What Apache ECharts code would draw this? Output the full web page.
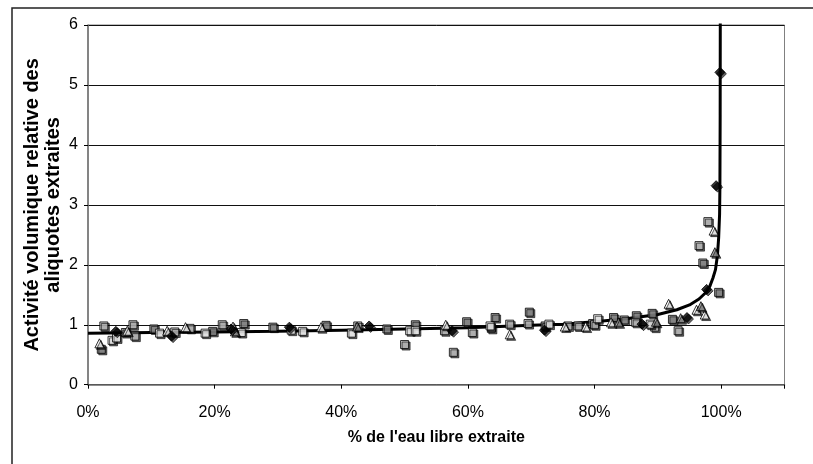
<!DOCTYPE html>
<html>
<head>
<meta charset="utf-8">
<script src="https://cdn.jsdelivr.net/npm/echarts@6/dist/echarts.min.js"></script>
<style>
html,body{margin:0;padding:0;background:#fff;}
#chart{width:813px;height:464px;}
</style>
</head>
<body>
<div id="chart"></div>
<script>
// ---- data (x = fraction of free water extracted, y = relative activity) ----
const xTicks = [0, 0.2, 0.4, 0.6, 0.8, 1.0];
const yTicks = [0, 1, 2, 3, 4, 5, 6];

const curveX = [0, 0.1, 0.2, 0.3, 0.4, 0.5, 0.6, 0.7, 0.75, 0.8, 0.85, 0.9, 0.93, 0.95, 0.965, 0.975, 0.982, 0.987, 0.991, 0.994, 0.996, 0.9975, 0.998, 0.9984, 0.9986];
const curveY = [0.86, 0.87, 0.88, 0.89, 0.91, 0.93, 0.95, 0.99, 1.01, 1.05, 1.10, 1.17, 1.25, 1.33, 1.43, 1.53, 1.64, 1.78, 1.92, 2.15, 2.45, 2.85, 3.3, 4.5, 6.2];

const diamondX = [0.044, 0.132, 0.226, 0.318, 0.444, 0.575, 0.721, 0.875, 0.946, 0.977, 0.992, 0.998];
const diamondY = [0.89, 0.81, 0.93, 0.96, 0.98, 0.90, 0.91, 1.01, 1.12, 1.59, 3.32, 5.21];

const graySqX = [0.021, 0.059, 0.104, 0.197, 0.246, 0.292, 0.376, 0.472, 0.517, 0.598, 0.643, 0.697, 0.722, 0.797, 0.830, 0.847, 0.866, 0.891, 0.923, 0.971, 0.996];
const graySqY = [0.59, 0.87, 0.93, 0.89, 1.02, 0.96, 0.99, 0.93, 1.00, 1.05, 1.12, 1.21, 0.98, 1.02, 1.12, 1.08, 1.15, 1.19, 1.09, 2.03, 1.54];

const lightSqX = [0.025, 0.071, 0.074, 0.137, 0.161, 0.212, 0.426, 0.500, 0.577, 0.563, 0.607, 0.637, 0.666, 0.695, 0.758, 0.774, 0.800, 0.865, 0.895, 0.932, 0.965, 0.979];
const lightSqY = [0.98, 1.00, 0.81, 0.88, 0.94, 1.00, 0.98, 0.67, 0.54, 0.90, 0.87, 0.94, 1.01, 1.02, 0.98, 0.98, 1.00, 1.04, 0.96, 0.90, 2.32, 2.72];

const whiteSqX = [0.038, 0.045, 0.113, 0.185, 0.242, 0.321, 0.339, 0.416, 0.508, 0.517, 0.635, 0.728, 0.805, 0.888];
const whiteSqY = [0.74, 0.78, 0.86, 0.86, 0.87, 0.91, 0.89, 0.86, 0.90, 0.90, 0.98, 1.01, 1.10, 1.01];

const whiteTriX = [0.018, 0.062, 0.125, 0.154, 0.229, 0.368, 0.565, 0.666, 0.753, 0.786, 0.826, 0.917, 0.961, 0.974, 0.988];
const whiteTriY = [0.69, 0.90, 0.90, 0.96, 0.97, 0.96, 1.00, 0.84, 0.97, 0.97, 1.04, 1.35, 1.25, 1.17, 2.57];

const grayTriX = [0.232, 0.425, 0.838, 0.897, 0.936, 0.968, 0.990];
const grayTriY = [0.89, 0.97, 1.04, 1.05, 1.11, 1.31, 2.21];

const xName = "% de l'eau libre extraite";
const yName = "Activité volumique relative des\naliquotes extraites";

function pairs(xs, ys) { return xs.map((x, i) => [x, ys[i]]); }

const FONT = 'Liberation Sans, Arial, sans-serif';
const shadow = { shadowColor: 'rgba(0,0,0,0.75)', shadowOffsetX: 1.5, shadowOffsetY: 1.5, shadowBlur: 0 };

function scatter(name, xs, ys, symbol, size, fill, border) {
  return {
    name: name, type: 'scatter', data: pairs(xs, ys), symbol: symbol, symbolSize: size,
    itemStyle: Object.assign({ color: fill, borderColor: border, borderWidth: 1 }, shadow),
    z: 3, animation: false
  };
}

const chart = echarts.init(document.getElementById('chart'), null, { renderer: 'canvas' });
chart.setOption({
  backgroundColor: '#fff',
  animation: false,
  graphic: [{
    type: 'rect', shape: { x: 12, y: 8, width: 820, height: 480 },
    style: { fill: 'none', stroke: '#222', lineWidth: 1.5 }, z: 0
  }],
  grid: { left: 88, top: 25, right: 28.5, bottom: 79.3, show: true, borderColor: '#808080', borderWidth: 1, backgroundColor: 'transparent' },
  xAxis: {
    type: 'value', min: 0, max: 1.1, interval: 0.2,
    name: xName, nameLocation: 'middle', nameGap: 45, nameMoveOverlap: false,
    nameTextStyle: { fontFamily: FONT, fontSize: 16, fontWeight: 'bold', color: '#000' },
    axisLine: { show: true, lineStyle: { color: '#707070', width: 1.5 } },
    axisTick: { show: true, inside: false, length: 4, lineStyle: { color: '#000', width: 1 } },
    axisLabel: {
      margin: 20, fontFamily: FONT, fontSize: 16, color: '#000',
      formatter: function (v) { return xTicks.some(t => Math.abs(t - v) < 1e-6) ? Math.round(v * 100) + '%' : ''; }
    },
    splitLine: { show: false }
  },
  yAxis: {
    type: 'value', min: 0, max: 6, interval: 1,
    name: yName, nameLocation: 'middle', nameGap: 24, nameRotate: 90, nameMoveOverlap: false,
    nameTextStyle: { fontFamily: FONT, fontSize: 20, fontWeight: 'bold', color: '#000', lineHeight: 21 },
    axisLine: { show: true, lineStyle: { color: '#707070', width: 1.5 } },
    axisTick: { show: true, inside: false, length: 4, lineStyle: { color: '#000', width: 1 } },
    axisLabel: { margin: 10, fontFamily: FONT, fontSize: 16, color: '#000',
      formatter: function (v) { return yTicks.indexOf(v) >= 0 ? String(v) : ''; } },
    splitLine: { show: true, lineStyle: { color: '#111', width: 1 } }
  },
  series: [
    { name: 'courbe', type: 'line', data: pairs(curveX, curveY), showSymbol: false, symbol: 'none',
      lineStyle: { color: '#000', width: 3 }, z: 2, clip: true, animation: false },
    scatter('s1', graySqX, graySqY, 'rect', 8, '#8c8c8c', '#000'),
    scatter('s2', lightSqX, lightSqY, 'rect', 8, '#c0c0c0', '#000'),
    scatter('s3', whiteSqX, whiteSqY, 'rect', 8, '#ffffff', '#000'),
    scatter('s4', whiteTriX, whiteTriY, 'triangle', 9, '#ffffff', '#000'),
    scatter('s5', grayTriX, grayTriY, 'triangle', 9, '#8c8c8c', '#000'),
    scatter('s6', diamondX, diamondY, 'diamond', 10, '#000000', '#000')
  ]
});
</script>
</body>
</html>
